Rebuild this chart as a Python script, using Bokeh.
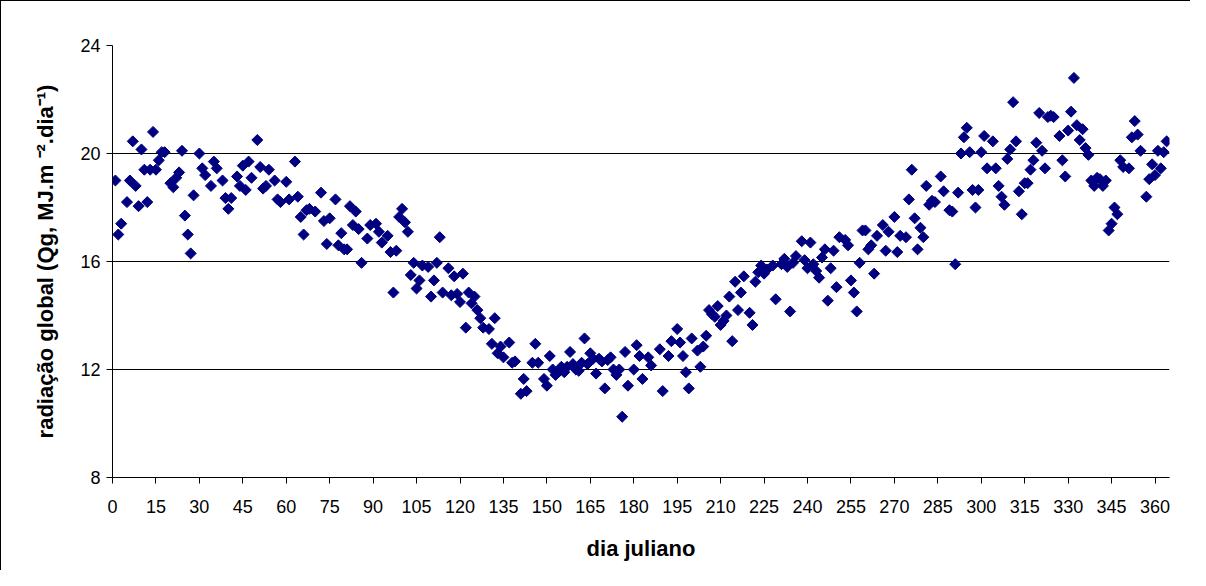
from bokeh.plotting import figure
from bokeh.models import Range1d, FixedTicker
from bokeh.embed import file_html
from bokeh.resources import INLINE

# dia juliano (x) and radiação global Qg in MJ m-2 dia-1 (y)
dias = [
    1, 2, 3, 5, 6, 7, 8, 9, 10, 11, 12, 13, 14, 15, 16, 17, 18, 20, 21, 22,
    23, 24, 25, 26, 27, 28, 30, 31, 32, 34, 35, 36, 38, 39, 40, 41, 43, 44, 45, 46,
    47, 48, 50, 51, 52, 53, 54, 56, 57, 58, 60, 61, 63, 64, 65, 66, 67, 68, 70, 72,
    73, 74, 75, 77, 78, 79, 80, 81, 82, 83, 84, 85, 86, 88, 89, 91, 92, 93, 95, 96,
    97, 98, 99, 100, 101, 102, 103, 104, 105, 106, 107, 109, 110, 111, 112, 113, 114, 116, 117, 118,
    119, 120, 121, 122, 123, 124, 125, 126, 127, 128, 130, 131, 132, 133, 134, 135, 137, 138, 139, 141,
    142, 143, 145, 146, 147, 149, 150, 151, 152, 153, 154, 155, 156, 157, 158, 159, 160, 161, 162, 163,
    164, 165, 166, 167, 168, 169, 170, 171, 172, 173, 174, 175, 176, 177, 178, 180, 181, 182, 183, 185,
    186, 189, 190, 192, 193, 195, 196, 197, 198, 199, 200, 202, 203, 204, 205, 206, 207, 208, 209, 210,
    211, 212, 213, 214, 215, 216, 217, 218, 220, 221, 222, 223, 224, 225, 226, 228, 229, 231, 232, 233,
    234, 235, 236, 238, 239, 240, 241, 242, 243, 244, 245, 246, 247, 248, 249, 250, 251, 253, 254, 255,
    256, 257, 258, 259, 260, 261, 262, 263, 264, 266, 267, 268, 270, 271, 272, 274, 275, 276, 277, 278,
    279, 280, 281, 282, 283, 284, 286, 287, 289, 290, 291, 292, 293, 294, 295, 296, 297, 298, 299, 300,
    301, 302, 304, 305, 306, 307, 308, 309, 310, 311, 312, 313, 314, 315, 316, 317, 318, 319, 320, 321,
    322, 323, 324, 325, 327, 328, 329, 330, 331, 332, 333, 334, 335, 336, 337, 338, 339, 340, 341, 342,
    343, 344, 345, 346, 347, 348, 349, 351, 352, 353, 354, 355, 357, 358, 359, 360, 361, 362, 363, 364,
]
radiacao = [
    19.0, 17.0, 17.4, 18.2, 19.0, 20.45, 18.8, 18.05, 20.15, 19.4, 18.2, 19.4, 20.8, 19.4, 19.75, 20.05, 20.05, 18.9, 18.75, 19.1,
    19.3, 20.1, 17.7, 17.0, 16.3, 18.45, 20.0, 19.45, 19.2, 18.8, 19.7, 19.45, 19.0, 18.35, 17.95, 18.35, 19.15, 18.8, 19.55, 18.65,
    19.7, 19.1, 20.5, 19.5, 18.7, 18.8, 19.4, 19.0, 18.3, 18.2, 18.95, 18.3, 19.7, 18.4, 17.65, 17.0, 17.9, 17.95, 17.85, 18.55,
    17.5, 16.65, 17.6, 18.3, 16.6, 17.05, 16.45, 16.45, 18.05, 17.35, 17.85, 17.2, 15.95, 16.85, 17.35, 17.4, 17.1, 16.7, 16.95, 16.35,
    14.85, 16.4, 17.65, 17.95, 17.45, 17.1, 15.5, 15.95, 15.0, 15.3, 15.85, 15.8, 14.7, 15.3, 15.95, 16.9, 14.85, 15.75, 14.75, 15.45,
    14.8, 14.5, 15.55, 13.55, 14.85, 14.45, 14.7, 14.2, 13.9, 13.55, 13.5, 12.95, 13.9, 12.6, 12.85, 12.45, 13.0, 12.25, 12.3, 11.1,
    11.65, 11.2, 12.25, 12.95, 12.25, 11.65, 11.4, 12.5, 12.0, 11.8, 11.9, 12.1, 11.9, 12.1, 12.65, 12.2, 12.0, 11.95, 12.25, 13.15,
    12.2, 12.6, 12.4, 11.85, 12.4, 12.3, 11.3, 12.35, 12.45, 12.0, 11.8, 12.0, 10.25, 12.65, 11.4, 12.0, 12.9, 12.5, 11.65, 12.45,
    12.15, 12.75, 11.2, 12.5, 13.05, 13.5, 13.0, 12.5, 11.9, 11.3, 13.15, 12.7, 12.1, 12.85, 13.25, 14.2, 14.05, 13.95, 14.35, 13.65,
    13.8, 14.0, 14.7, 13.05, 15.25, 14.2, 14.85, 15.45, 14.1, 13.65, 15.25, 15.6, 15.85, 15.55, 15.7, 15.85, 14.6, 15.9, 16.1, 15.8,
    14.15, 15.95, 16.2, 16.75, 16.05, 15.75, 16.7, 15.9, 15.65, 15.4, 16.15, 16.45, 14.55, 15.75, 16.4, 15.05, 16.9, 16.8, 16.6, 15.3,
    14.85, 14.15, 15.95, 17.15, 17.15, 16.45, 16.6, 15.55, 16.95, 17.35, 16.4, 17.1, 17.65, 16.35, 16.95, 16.9, 18.3, 19.4, 17.6, 16.45,
    17.25, 16.9, 18.8, 18.1, 18.25, 18.2, 19.15, 18.6, 17.9, 17.85, 15.9, 18.55, 20.0, 20.6, 20.95, 20.05, 18.65, 18.0, 18.65, 20.05,
    20.65, 19.45, 20.45, 19.45, 18.8, 18.4, 18.1, 19.8, 20.15, 21.9, 20.45, 18.6, 17.75, 18.9, 18.9, 19.4, 19.75, 20.4, 21.5, 20.1,
    19.45, 21.35, 21.4, 21.35, 20.65, 19.75, 19.15, 20.85, 21.55, 22.8, 21.05, 20.5, 20.9, 20.2, 19.95, 19.0, 18.8, 19.1, 19.05, 18.8,
    19.0, 17.15, 17.4, 18.0, 17.75, 19.75, 19.5, 19.45, 20.6, 21.2, 20.7, 20.1, 18.4, 19.05, 19.6, 19.2, 20.1, 19.45, 20.05, 20.45,
]

x_ticks = list(range(0, 361, 15))
y_ticks = [8, 12, 16, 20, 24]

p = figure(
    width=1190, height=570,
    x_range=Range1d(0, 365), y_range=Range1d(8, 24),
    output_backend="svg", toolbar_location=None,
    min_border_left=111, min_border_right=22,
    min_border_top=44, min_border_bottom=94,
)
p.styles = {"border-left": "1px solid black", "border-top": "1px solid black"}
p.outline_line_color = None
p.background_fill_color = "white"
p.border_fill_color = "white"

p.scatter(dias, radiacao, marker="square", angle=0.7853981634, size=7.8,
          fill_color="#000080", line_color="#000080", line_width=1)

font = "Liberation Sans"
p.xaxis.ticker = FixedTicker(ticks=x_ticks)
p.yaxis.ticker = FixedTicker(ticks=y_ticks)
p.xgrid.grid_line_color = None
p.ygrid.ticker = FixedTicker(ticks=[12, 16, 20, 24])
p.ygrid.grid_line_color = "black"
p.ygrid.grid_line_width = 1

for ax in (p.xaxis, p.yaxis):
    ax.axis_line_color = "black"
    ax.major_tick_line_color = "black"
    ax.minor_tick_line_color = None
    ax.major_tick_out = 6
    ax.major_tick_in = 0
    ax.major_label_text_font = font
    ax.major_label_text_font_size = "18px"
    ax.major_label_text_color = "black"
    ax.axis_label_text_font = font
    ax.axis_label_text_font_style = "bold"
    ax.axis_label_text_font_size = "22px"
    ax.axis_label_text_color = "black"

p.xaxis.axis_label = "dia juliano"
p.yaxis.axis_label = "radiação global (Qg, MJ.m ⁻².dia⁻¹)"
p.xaxis.major_label_standoff = 16
p.xaxis.axis_label_standoff = 20
p.yaxis.major_label_standoff = 6
p.yaxis.axis_label_standoff = 19

open("out.html", "w").write(file_html(p, INLINE))
